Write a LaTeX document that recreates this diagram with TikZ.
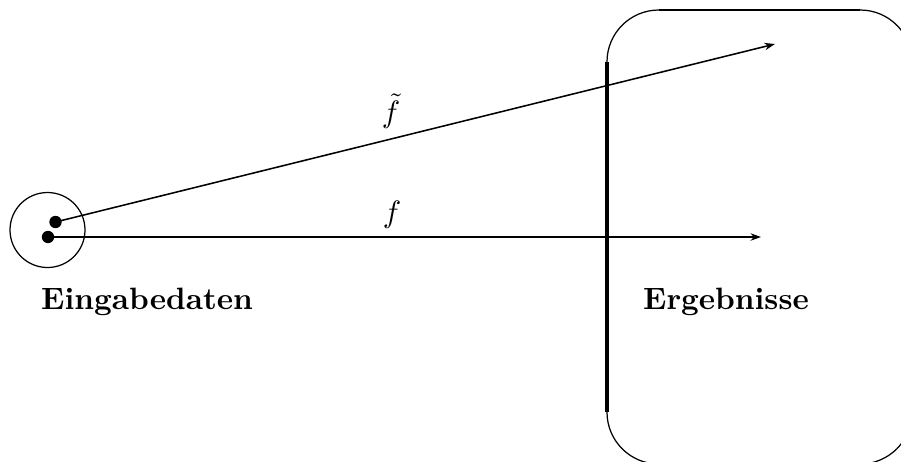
\documentclass[tikz,border=0pt]{standalone}
\usepackage{amsmath}
\usepackage{amssymb}
\usetikzlibrary{positioning,arrows.meta}

\tikzset{
  punkt/.style={circle, fill=black, inner sep=0pt, minimum width=3.6pt, minimum height=4pt},
  pfeil/.style={-{Stealth[length=3.4pt,width=2.4pt]}},
  marke/.style={inner sep=0pt},
  beschr/.style={font=\bfseries}
}

\begin{document}
\begin{tikzpicture}[x=0.324pt, y=-0.324pt]
    \useasboundingbox (0,0) rectangle (901,461);
    \clip (0,0) rectangle (901,461);

    % Eingabebereich
    \draw[line width=0.4pt] (47.5,230) circle (37.5);
    \node[punkt] (p1) at (55.5,222) {};
    \node[punkt] (p2) at (48,237) {};

    % Ergebnisbereich
    \draw[line width=0.4pt, rounded corners=16.8pt] (607,10) rectangle (912,464);
    \draw[line width=0.8pt] (659,10) -- (860,10);
    \draw[line width=1.6pt] (607,62) -- (607,412);

    % Endpunkte
    \coordinate (e1) at (775,44);
    \coordinate (e2) at (761,237);

    % Abbildungen
    \draw[pfeil, line width=0.5pt] (p1.center) -- (e1);
    \draw[pfeil, line width=0.7pt] (p2.center) -- (e2);
    \node[marke] (ft) at (391,111) {$\tilde{f}$};
    \node[marke] (f) at (392,215) {$f$};

    % Beschriftungen
    \node[beschr] (ein) at (147,302) {Eingabedaten};
    \node[beschr] (erg) at (726,302) {Ergebnisse};
\end{tikzpicture}
\end{document}
